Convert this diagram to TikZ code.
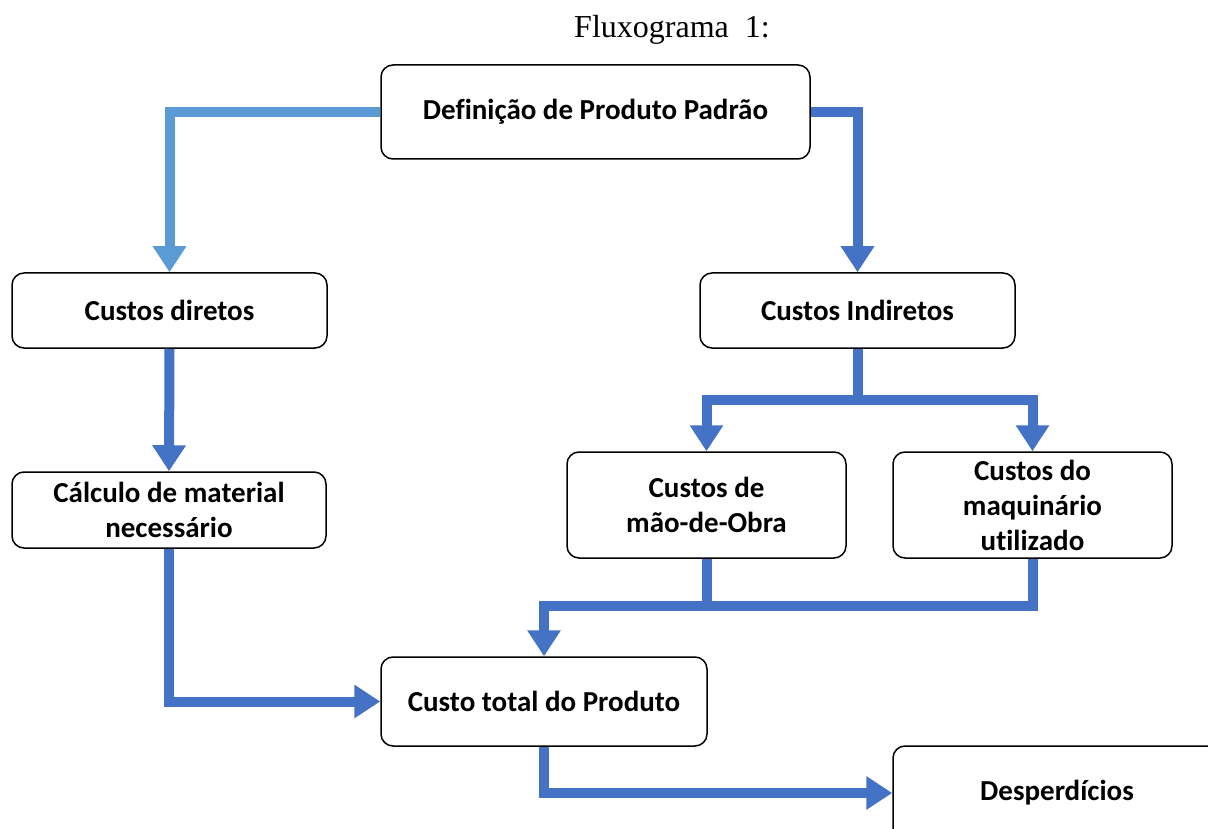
\documentclass[tikz,border=0pt]{standalone}
\usepackage{fontspec}
\setmainfont{Liberation Serif}
\newfontfamily\boxfont[Ligatures=NoCommon]{Carlito}
\usetikzlibrary{arrows.meta, positioning}

\definecolor{flowblue}{HTML}{4472C4}
\definecolor{lightflow}{HTML}{5B9BD5}

\begin{document}
\begin{tikzpicture}[
    x=1pt, y=-1pt,
    stepbox/.style={rectangle, rounded corners=12pt, draw=black, line width=1.5pt, fill=white, align=center, inner sep=0pt, font=\boxfont\bfseries\fontsize{29}{35}\selectfont},
    link/.style={line width=10pt, draw=flowblue},
    flow/.style={link, -{Triangle[width=32pt, length=26pt]}}
  ]

  \useasboundingbox (0,0) rectangle (1208,829);
  \clip (0,0) rectangle (1208,829);

  % Title
  \node[font=\fontsize{32}{36}\selectfont] (title) at (672,30) {Fluxograma~~1:};

  % Boxes
  \node[stepbox, minimum width=429pt, minimum height=94pt] (def) at (595.5,112) {Definição de Produto Padrão};
  \node[stepbox, minimum width=315pt, minimum height=75pt] (diretos) at (169.5,310.5) {Custos diretos};
  \node[stepbox, minimum width=315pt, minimum height=75pt] (indiretos) at (857.5,310.5) {Custos Indiretos};
  \node[stepbox, minimum width=314pt, minimum height=76pt] (calculo) at (169,510) {Cálculo de material\\necessário};
  \node[stepbox, minimum width=279pt, minimum height=106pt] (mao) at (706.5,505) {Custos de\\mão-de-Obra};
  \node[stepbox, minimum width=279pt, minimum height=106pt] (maq) at (1032.5,505) {Custos do\\maquinário\\utilizado};
  \node[stepbox, minimum width=326pt, minimum height=89pt] (total) at (544,701.5) {Custo total do Produto};
  \node[stepbox, minimum width=328pt, minimum height=94pt] (desp) at (1057,793) {Desperdícios};

  % Connectors
  \coordinate (split) at (857.5,400);
  \coordinate (merge) at (544,606);

  \draw[flow, draw=lightflow] (def.west) -| (diretos.north);
  \draw[flow] (def.east) -| (indiretos.north);
  \draw[flow] (diretos.south) -- (calculo.north);

  \draw[link] (indiretos.south) -- (split);
  \draw[flow] (split) -| (mao.north);
  \draw[flow] (split) -| (maq.north);

  \draw[link] (mao.south) -- (mao.south |- merge);
  \draw[flow] (maq.south) |- (merge) -- (total.north);

  \draw[flow] (calculo.south) |- (total.west);
  \draw[flow] (total.south) |- (desp.west);

\end{tikzpicture}
\end{document}
